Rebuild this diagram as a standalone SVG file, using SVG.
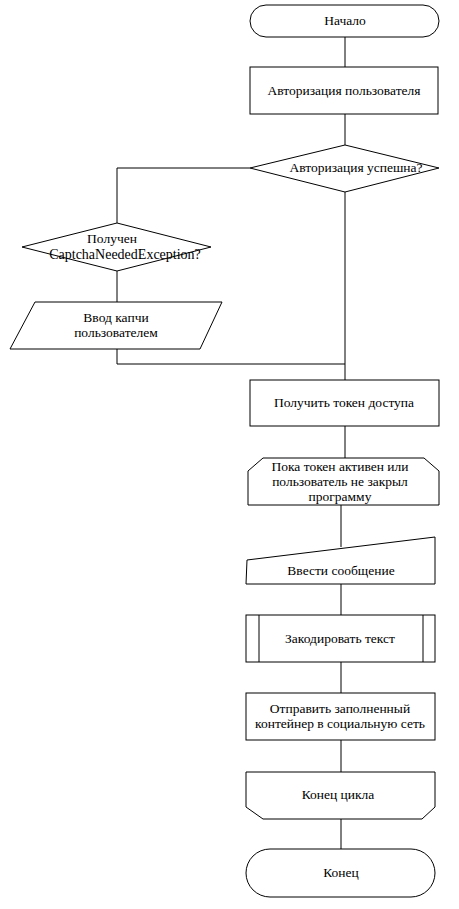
<svg xmlns="http://www.w3.org/2000/svg" width="459" height="909" viewBox="0 0 459 909">
<style>
.s{fill:#fff;stroke:#000;stroke-width:1}
.c{fill:none;stroke:#000;stroke-width:1}
text{font-family:"Liberation Serif","Times New Roman",serif;font-size:13.5px;fill:#000;text-anchor:middle}
</style>
<rect width="459" height="909" fill="#fff"/>
<g id="connectors">
<path class="c" d="M345 37V67"/>
<path class="c" d="M345 114V145"/>
<path class="c" d="M250 168H117V223"/>
<path class="c" d="M117 271V302"/>
<path class="c" d="M117 349V364H345"/>
<path class="c" d="M345 192V380"/>
<path class="c" d="M345 426V458"/>
<path class="c" d="M341 505V547"/>
<path class="c" d="M341 584V615"/>
<path class="c" d="M341 662V693"/>
<path class="c" d="M341 740V772"/>
<path class="c" d="M341 819V849"/>
</g>
<g id="start">
<rect class="s" x="250" y="5" width="189" height="32" rx="16"/>
<text x="345" y="25">Начало</text>
</g>
<g id="auth">
<rect class="s" x="250" y="67" width="188" height="47"/>
<text x="344" y="95">Авторизация пользователя</text>
</g>
<g id="authOk">
<polygon class="s" points="345,145 439,168 345,192 250,168"/>
<text x="356" y="172">Авторизация успешна?</text>
</g>
<g id="captcha">
<polygon class="s" points="117,223 211,247 117,271 22,247"/>
<text x="112" y="243">Получен</text>
<text x="125" y="259" style="font-size:14px">CaptchaNeededException?</text>
</g>
<g id="captchaInput">
<polygon class="s" points="35,302 222,302 200,349 10,349"/>
<text x="116" y="322">Ввод капчи</text>
<text x="116" y="337">пользователем</text>
</g>
<g id="token">
<rect class="s" x="250" y="380" width="189" height="46"/>
<text x="344" y="407">Получить токен доступа</text>
</g>
<g id="loopStart">
<polygon class="s" points="263,458 424,458 439,471 439,505 248,505 248,471"/>
<text x="340" y="471">Пока токен активен или</text>
<text x="340" y="486">пользователь не закрыл</text>
<text x="340" y="501">программу</text>
</g>
<g id="inputMsg">
<polygon class="s" points="247,560 435,537 435,584 246,584"/>
<text x="341" y="575">Ввести сообщение</text>
</g>
<g id="encode">
<rect class="s" x="246" y="615" width="189" height="47"/>
<path class="c" d="M259 615V662M423 615V662"/>
<text x="340" y="643">Закодировать текст</text>
</g>
<g id="send">
<rect class="s" x="246" y="693" width="189" height="47"/>
<text x="340" y="713">Отправить заполненный</text>
<text x="340" y="728">контейнер в социальную сеть</text>
</g>
<g id="loopEnd">
<polygon class="s" points="246,772 435,772 435,807 422,819 263,819 246,807"/>
<text x="338" y="799">Конец цикла</text>
</g>
<g id="end">
<rect class="s" x="246" y="849" width="189" height="48" rx="24"/>
<text x="341" y="877">Конец</text>
</g>
</svg>
